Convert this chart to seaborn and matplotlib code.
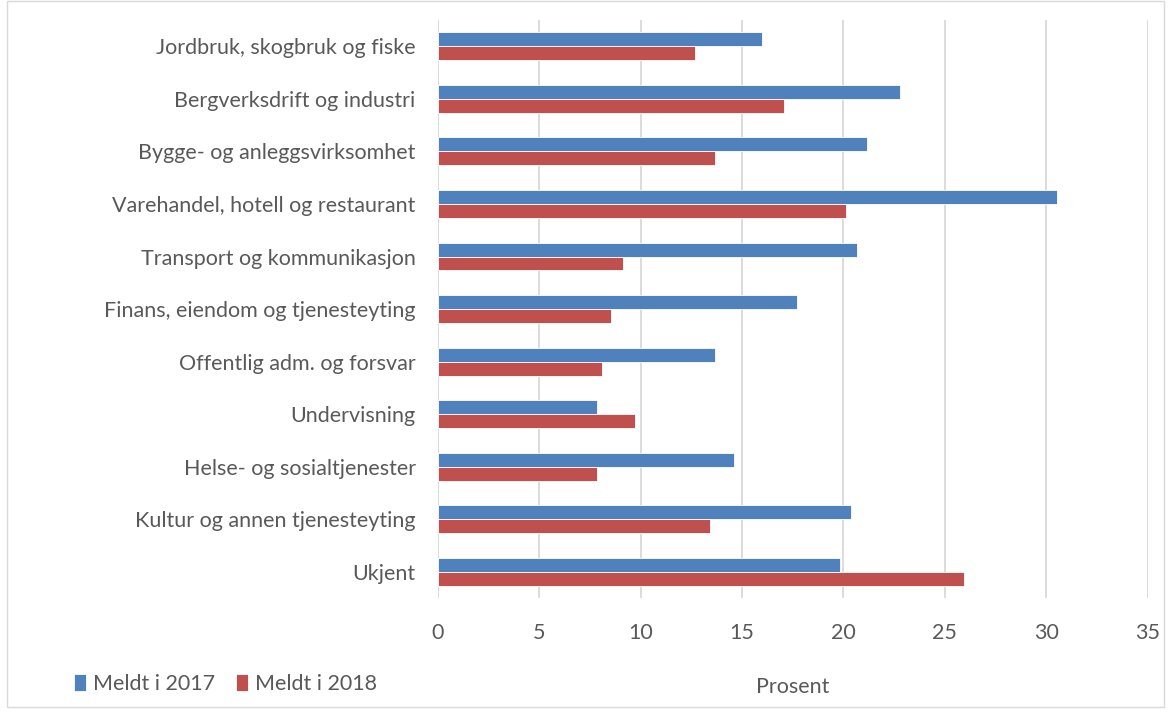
import pandas as pd
import seaborn as sns
from matplotlib import pyplot as plt
from matplotlib.patches import Rectangle

# Data
categories = [
    'Jordbruk, skogbruk og fiske',
    'Bergverksdrift og industri',
    'Bygge- og anleggsvirksomhet',
    'Varehandel, hotell og restaurant',
    'Transport og kommunikasjon',
    'Finans, eiendom og tjenesteyting',
    'Offentlig adm. og forsvar',
    'Undervisning',
    'Helse- og sosialtjenester',
    'Kultur og annen tjenesteyting',
    'Ukjent',
]
meldt_2017 = [16.0, 22.8, 21.15, 30.55, 20.65, 17.7, 13.65, 7.85, 14.6, 20.35, 19.85]
meldt_2018 = [12.7, 17.05, 13.65, 20.15, 9.15, 8.55, 8.1, 9.7, 7.85, 13.4, 25.95]
series = ['Meldt i 2017', 'Meldt i 2018']
ticks = [0, 5, 10, 15, 20, 25, 30, 35]

df = pd.DataFrame({
    'Kategori': categories * 2,
    'Prosent': meldt_2017 + meldt_2018,
    'Serie': [series[0]] * len(categories) + [series[1]] * len(categories),
})

sns.set_theme(style='white')
plt.rcParams['font.family'] = ['Lato', 'DejaVu Sans']
text_color = '#595959'
fs = 15.5

fig, ax = plt.subplots(figsize=(11.71, 7.13), dpi=100)
fig.subplots_adjust(left=0.374, right=0.980, top=0.972, bottom=0.161)

sns.barplot(data=df, y='Kategori', x='Prosent', hue='Serie', order=categories,
            palette=['#4F81BD', '#C0504D'], saturation=1, width=0.53, orient='h',
            edgecolor='#FFFFFF', linewidth=0.6, ax=ax, legend=True)

ax.set_xlim(0, 35)
ax.set_ylim(10.5, -0.5)
ax.set_xticks(ticks)
ax.xaxis.grid(True, color='#D9D9D9', linewidth=1.3)
ax.set_axisbelow(True)
for s in ax.spines.values():
    s.set_visible(False)
ax.tick_params(axis='both', length=0, colors=text_color, labelsize=fs)
ax.tick_params(axis='x', pad=18)
ax.tick_params(axis='y', pad=16)
ax.set_ylabel('')
ax.set_xlabel('Prosent', color=text_color, fontsize=fs, labelpad=24)

handles, labels = ax.get_legend_handles_labels()
ax.get_legend().remove()
fig.legend(handles, labels, loc='lower left', bbox_to_anchor=(0.047, 0.0),
           ncol=2, frameon=False, fontsize=fs, labelcolor=text_color,
           handlelength=0.55, handleheight=0.85, handletextpad=0.3, columnspacing=1.0)

# light frame around the chart
fig.patches.append(Rectangle((0.006, 0.008), 0.988, 0.99, transform=fig.transFigure,
                             fill=False, edgecolor='#D9D9D9', linewidth=1))

plt.savefig('out.png', dpi=100)
